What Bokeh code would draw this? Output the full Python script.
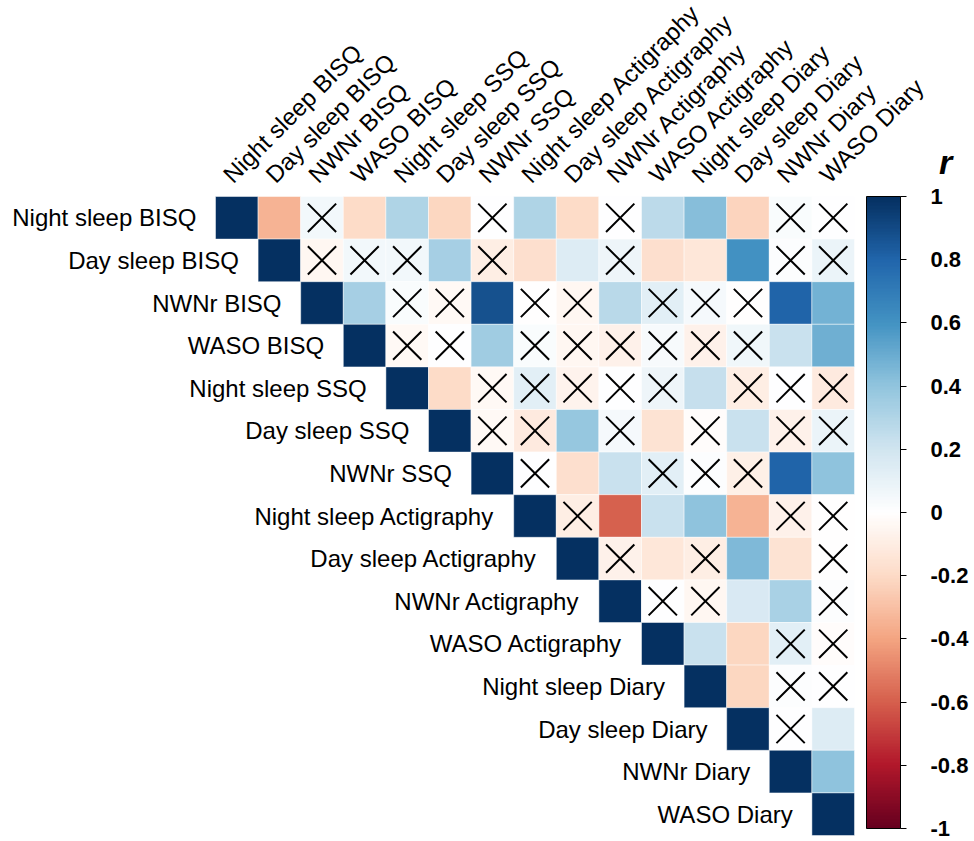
import math

from bokeh.core.properties import value
from bokeh.embed import file_html
from bokeh.models import ColorBar, ColumnDataSource, FixedTicker, LinearColorMapper, Range1d
from bokeh.plotting import figure
from bokeh.resources import INLINE

# Sleep measures (rows and columns of the correlation matrix)
labels = [
    "Night sleep BISQ", "Day sleep BISQ", "NWNr BISQ", "WASO BISQ",
    "Night sleep SSQ", "Day sleep SSQ", "NWNr SSQ",
    "Night sleep Actigraphy", "Day sleep Actigraphy", "NWNr Actigraphy", "WASO Actigraphy",
    "Night sleep Diary", "Day sleep Diary", "NWNr Diary", "WASO Diary",
]

# Pearson r above the diagonal, row i holds columns i+1 .. 14
r_rows = [
    [-0.35, 0.05, -0.20, 0.30, -0.22, 0.00, 0.30, -0.20, 0.00, 0.26, 0.42, -0.23, 0.02, 0.00],
    [-0.05, 0.05, 0.05, 0.33, -0.10, -0.18, 0.15, 0.07, -0.18, -0.14, 0.60, 0.01, 0.08],
    [0.33, 0.02, -0.04, 0.88, -0.01, -0.05, 0.27, 0.13, 0.04, -0.01, 0.80, 0.47],
    [-0.04, 0.00, 0.35, 0.02, -0.05, -0.07, 0.03, -0.08, 0.06, 0.22, 0.48],
    [-0.20, -0.04, 0.13, -0.06, 0.00, 0.07, 0.23, -0.10, 0.00, -0.12],
    [-0.04, -0.12, 0.38, 0.04, -0.16, -0.02, 0.22, -0.08, 0.08],
    [0.00, -0.18, 0.22, 0.12, 0.01, -0.09, 0.80, 0.40],
    [-0.10, -0.60, 0.22, 0.40, -0.34, -0.07, -0.01],
    [-0.08, -0.14, -0.10, 0.44, -0.16, -0.01],
    [0.00, -0.05, 0.17, 0.32, 0.01],
    [0.22, -0.22, 0.12, -0.02],
    [-0.22, 0.01, 0.00],
    [0.00, 0.14],
    [0.40],
]

# 1 = not significant (crossed out), same layout as r_rows
ns_rows = [
    [0, 1, 0, 0, 0, 1, 0, 0, 1, 0, 0, 0, 1, 1],
    [1, 1, 1, 0, 1, 0, 0, 1, 0, 0, 0, 1, 1],
    [0, 1, 1, 0, 1, 1, 0, 1, 1, 1, 0, 0],
    [1, 1, 0, 1, 1, 1, 1, 1, 1, 0, 0],
    [0, 1, 1, 1, 1, 1, 0, 1, 1, 1],
    [1, 1, 0, 1, 0, 1, 0, 1, 1],
    [1, 0, 0, 1, 1, 1, 0, 0],
    [1, 0, 0, 0, 0, 1, 1],
    [1, 0, 1, 0, 0, 1],
    [1, 1, 0, 0, 1],
    [0, 0, 1, 1],
    [0, 1, 1],
    [1, 0],
    [0],
]

cbar_ticks = [-1, -0.8, -0.6, -0.4, -0.2, 0, 0.2, 0.4, 0.6, 0.8, 1]
cbar_tick_labels = ["-1", "-0.8", "-0.6", "-0.4", "-0.2", "0", "0.2", "0.4", "0.6", "0.8", "1"]

# Diverging red-white-blue scale, expanded to 200 steps
rdbu_anchors = ["#67001F", "#B2182B", "#D6604D", "#F4A582", "#FDDBC7", "#FFFFFF",
                "#D1E5F0", "#92C5DE", "#4393C3", "#2166AC", "#053061"]


def expand_palette(anchors, n):
    rgb = [tuple(int(c[k:k + 2], 16) for k in (1, 3, 5)) for c in anchors]
    out = []
    for s in range(n):
        t = s / (n - 1) * (len(rgb) - 1)
        a = min(int(t), len(rgb) - 2)
        f = t - a
        c = tuple(round(rgb[a][q] + (rgb[a + 1][q] - rgb[a][q]) * f) for q in range(3))
        out.append("#%02x%02x%02x" % c)
    return out


palette = expand_palette(rdbu_anchors, 200)
mapper = LinearColorMapper(palette=palette, low=-1, high=1)

n = len(labels)
cx, cy, cr = [], [], []
xx, xy = [], []
for i in range(n):
    cx.append(i + 0.5)
    cy.append(i + 0.5)
    cr.append(1.0)
    if i < len(r_rows):
        for k, (r, ns) in enumerate(zip(r_rows[i], ns_rows[i])):
            j = i + 1 + k
            cx.append(j + 0.5)
            cy.append(i + 0.5)
            cr.append(r)
            if ns:
                xx.append(j + 0.5)
                xy.append(i + 0.5)

cells = ColumnDataSource(dict(x=cx, y=cy, r=cr))
crosses = ColumnDataSource(dict(x=xx, y=xy))

W, H = 974, 841
CELL = 42.6
X0, Y0 = 215, 196

p = figure(
    width=W, height=H,
    x_range=Range1d(-X0 / CELL, (W - X0) / CELL),
    y_range=Range1d((H - Y0) / CELL, -Y0 / CELL),
    x_axis_location=None, y_axis_location=None,
    output_backend="svg", toolbar_location=None, min_border=0,
)
p.grid.visible = False
p.outline_line_color = None
p.background_fill_color = "white"

p.rect("x", "y", width=1, height=1, source=cells,
       fill_color={"field": "r", "transform": mapper},
       line_color="white", line_width=0.8, line_alpha=0.6)

p.scatter("x", "y", source=crosses, marker="x", size=40,
          line_color="black", line_width=2)

font_name = "Liberation Sans"
font = value(font_name)

# row labels sit just left of each diagonal cell
p.text(x=[i - 0.45 for i in range(n)], y=[i + 0.5 for i in range(n)], text=labels,
       text_align="right", text_baseline="middle", text_font=font,
       text_font_size="24px", text_color="black")

# column labels, slanted above the top edge
p.text(x=[j + 0.5 for j in range(n)], y=[-0.2] * n, text=labels,
       angle=math.pi / 4, text_align="left", text_baseline="bottom",
       text_font=font, text_font_size="24px", text_color="black")

# colour key: bar from y=196 to y=828 (pixels from the top)
cb = ColorBar(
    color_mapper=mapper,
    ticker=FixedTicker(ticks=cbar_ticks),
    major_label_overrides={t: s for t, s in zip(cbar_ticks, cbar_tick_labels)},
    width=34, height=632,
    location=(866, H - 828),
    padding=0, margin=0,
    bar_line_color="black", bar_line_width=1,
    major_tick_line_color="black", major_tick_out=6, major_tick_in=0,
    minor_tick_line_color=None,
    label_standoff=24,
    major_label_text_font=font_name,
    major_label_text_font_style="bold",
    major_label_text_font_size="22px",
    major_label_text_color="black",
    background_fill_alpha=0,
    border_line_color=None,
)
p.add_layout(cb)

p.text(x=[(945 - X0) / CELL], y=[(161 - Y0) / CELL], text=["r"],
       text_align="center", text_baseline="middle", text_font=font,
       text_font_style="bold italic", text_font_size="34px", text_color="black")

open("out.html", "w").write(file_html(p, INLINE))
